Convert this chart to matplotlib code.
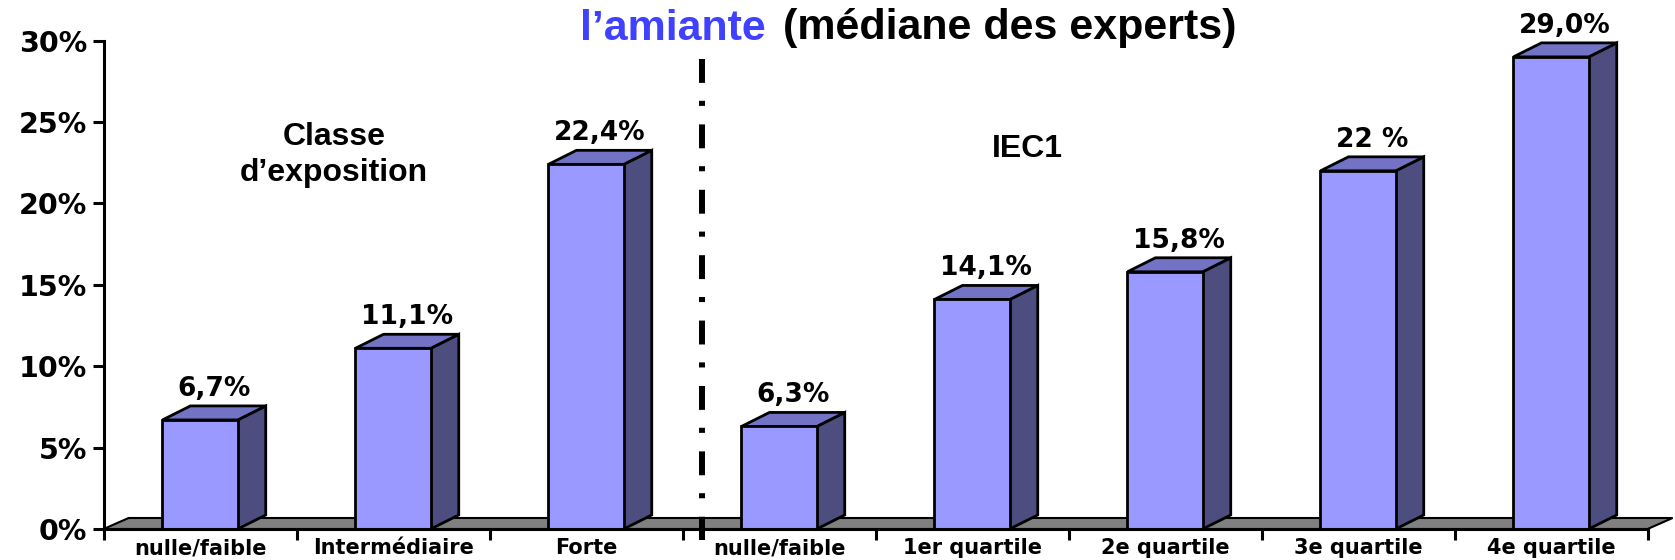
import matplotlib
matplotlib.use("Agg")
import matplotlib.pyplot as plt
from matplotlib.patches import Polygon

# Data
categories = ["nulle/faible", "Intermédiaire", "Forte",
              "nulle/faible", "1er quartile", "2e quartile", "3e quartile", "4e quartile"]
values = [6.7, 11.1, 22.4, 6.3, 14.1, 15.8, 22.0, 29.0]
value_labels = ["6,7%", "11,1%", "22,4%", "6,3%", "14,1%", "15,8%", "22 %", "29,0%"]
yticks = [0, 5, 10, 15, 20, 25, 30]
ytick_labels = ["0%", "5%", "10%", "15%", "20%", "25%", "30%"]

FRONT = "#9999ff"
TOP = "#7373c6"
SIDE = "#4d4d80"
FLOOR = "#808080"

W, H = 1675, 560
fig = plt.figure(figsize=(W / 100, H / 100), dpi=100)
# axes placed so that 1 category = 193 px, 1% = 16.28 px
left, bottom = 103.6, 31
ax = fig.add_axes([left / W, bottom / H, 8 * 193 / W, 30 * 16.28 / H])
ax.set_xlim(0, 8)
ax.set_ylim(0, 30)

px_x = 1 / 193      # data units per pixel, x
px_y = 1 / 16.28    # data units per pixel, y
dx, dy = 28 * px_x, 14 * px_y
fdx, fdy = 25 * px_x, 11 * px_y
bw = 0.39

# floor
ax.add_patch(Polygon([(0, 0), (fdx, fdy), (8 + fdx, fdy), (8, 0)], closed=True,
                     facecolor=FLOOR, edgecolor="black", lw=1.5, clip_on=False, zorder=1))

for i, v in enumerate(values):
    x0 = i + 0.5 - bw / 2
    x1 = i + 0.5 + bw / 2
    ax.add_patch(Polygon([(x1, 0), (x1 + dx, dy), (x1 + dx, v + dy), (x1, v)], closed=True,
                         facecolor=SIDE, edgecolor="black", lw=2, clip_on=False, zorder=2))
    ax.add_patch(Polygon([(x0, v), (x0 + dx, v + dy), (x1 + dx, v + dy), (x1, v)], closed=True,
                         facecolor=TOP, edgecolor="black", lw=2, clip_on=False, zorder=2))
    ax.add_patch(Polygon([(x0, 0), (x0, v), (x1, v), (x1, 0)], closed=True,
                         facecolor=FRONT, edgecolor="black", lw=2, clip_on=False, zorder=3))
    ax.text(i + 0.5 + dx / 2, v + dy + 10 * px_y, value_labels[i], ha="center", va="baseline",
            fontsize=19, fontweight="bold", family="DejaVu Sans", clip_on=False)

# separator between the two groups
ax.plot([3.10, 3.10], [28.9, -0.7], color="black", lw=4.3,
        linestyle=(0, (4, 3, 0.85, 3.1)), dash_capstyle="butt", clip_on=False, zorder=5)

# axes styling
for s in ["top", "right"]:
    ax.spines[s].set_visible(False)
ax.spines["left"].set_linewidth(2.2)
ax.spines["bottom"].set_linewidth(2.2)
ax.spines["bottom"].set_zorder(4)
ax.set_yticks(yticks)
ax.set_yticklabels(ytick_labels, fontsize=20.5, fontweight="bold", family="DejaVu Sans")
ax.tick_params(axis="y", length=8, width=2.2, pad=4)
ax.set_xticks(range(0, 9))
ax.set_xticklabels([])
ax.set_xticks([i + 0.5 for i in range(8)], minor=True)
ax.set_xticklabels(categories, minor=True, fontsize=15, fontweight="bold", family="DejaVu Sans")
ax.tick_params(axis="x", which="major", length=8, width=2.2)
ax.tick_params(axis="x", which="minor", length=0, pad=6.5)

# group titles
ax.text((334 - left) / 193, (529 - 155) / 16.28, "Classe\nd\u2019exposition", ha="center",
        va="center", fontsize=23, fontweight="bold", family="Liberation Sans", linespacing=1.3)
ax.text((1027 - left) / 193, (529 - 149) / 16.28, "IEC1", ha="center", va="center",
        fontsize=23, fontweight="bold", family="Liberation Sans")

# title, partly cut at the top in the reference
fig.text(766 / W, 1 - 39.5 / H, "l\u2019amiante", ha="right", va="baseline", color="#4040ff",
         fontsize=31, fontweight="bold", family="Liberation Sans")
fig.text(783 / W, 1 - 39.5 / H, "(médiane des experts)", ha="left", va="baseline", color="black",
         fontsize=31, fontweight="bold", family="Liberation Sans")

fig.savefig("out.png", dpi=100)
